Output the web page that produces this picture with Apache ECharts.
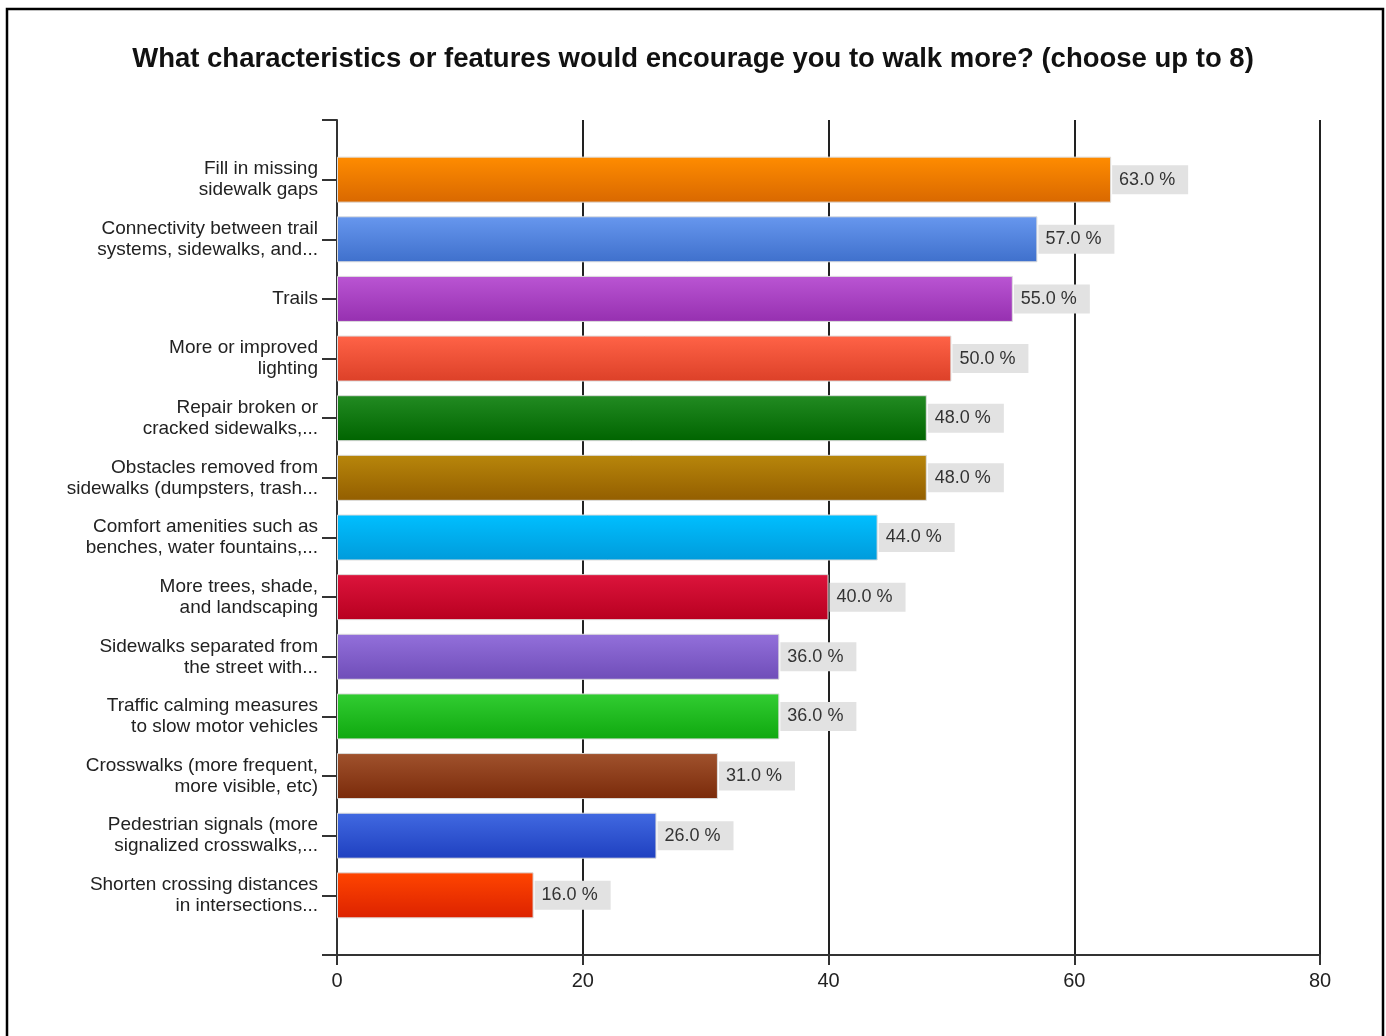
<!DOCTYPE html>
<html>
<head>
<meta charset="utf-8">
<script src="https://cdn.jsdelivr.net/npm/echarts@6/dist/echarts.min.js"></script>
<style>
html,body{margin:0;padding:0;background:#fff;}
#chart{width:1386px;height:1036px;}
</style>
</head>
<body>
<div id="chart"></div>
<script>
var titleText = 'What characteristics or features would encourage you to walk more? (choose up to 8)';
var categories = [
  'Fill in missing\nsidewalk gaps',
  'Connectivity between trail\nsystems, sidewalks, and...',
  'Trails',
  'More or improved\nlighting',
  'Repair broken or\ncracked sidewalks,...',
  'Obstacles removed from\nsidewalks (dumpsters, trash...',
  'Comfort amenities such as\nbenches, water fountains,...',
  'More trees, shade,\nand landscaping',
  'Sidewalks separated from\nthe street with...',
  'Traffic calming measures\nto slow motor vehicles',
  'Crosswalks (more frequent,\nmore visible, etc)',
  'Pedestrian signals (more\nsignalized crosswalks,...',
  'Shorten crossing distances\nin intersections...'
];
var values = [63, 57, 55, 50, 48, 48, 44, 40, 36, 36, 31, 26, 16];
var xTicks = { min: 0, max: 80, interval: 20 };

var palette = [
  ['#ff8c00', '#d96800'],
  ['#6797ee', '#3f70cc'],
  ['#ba55d3', '#9630b0'],
  ['#ff6347', '#dc4028'],
  ['#228b22', '#006400'],
  ['#b8860b', '#935e00'],
  ['#00bfff', '#009bdb'],
  ['#dc143c', '#b80020'],
  ['#9370db', '#6f4db8'],
  ['#32cd32', '#0fa80f'],
  ['#a0522d', '#7a2a0a'],
  ['#4169e1', '#1f40c0'],
  ['#ff4500', '#dc2200']
];

// pad categories so the axis has an empty slot at each end
var yData = [''].concat(categories, ['']);
var barData = [null];
values.forEach(function (v, i) {
  barData.push({
    value: v,
    itemStyle: {
      color: new echarts.graphic.LinearGradient(0, 0, 0, 1, [
        { offset: 0, color: palette[i][0] },
        { offset: 1, color: palette[i][1] }
      ])
    }
  });
});
barData.push(null);

var chart = echarts.init(document.getElementById('chart'), null, { renderer: 'canvas' });
chart.setOption({
  backgroundColor: '#ffffff',
  animation: false,
  title: {
    text: titleText,
    left: 'center',
    top: 40,
    textStyle: { fontFamily: 'Liberation Sans, Arial, sans-serif', fontSize: 27.5, fontWeight: 'bold', color: '#111' }
  },
  graphic: [{
    type: 'rect',
    shape: { x: 7, y: 9, width: 1376, height: 1100 },
    style: { fill: 'none', stroke: '#000', lineWidth: 2.5 },
    silent: true
  }],
  grid: { left: 337, top: 120, width: 983, height: 835, containLabel: false },
  xAxis: {
    type: 'value',
    min: xTicks.min, max: xTicks.max, interval: xTicks.interval,
    axisLine: { show: true, lineStyle: { color: '#333', width: 2 } },
    axisTick: { show: true, length: 10, lineStyle: { color: '#333', width: 2 } },
    splitLine: { show: true, lineStyle: { color: '#222', width: 2 } },
    axisLabel: { fontFamily: 'Liberation Sans, Arial, sans-serif', fontSize: 20, color: '#222', margin: 16 }
  },
  yAxis: {
    type: 'category',
    inverse: true,
    boundaryGap: false,
    data: yData,
    axisLine: { show: true, lineStyle: { color: '#333', width: 2 } },
    axisTick: { show: true, length: 15, alignWithLabel: true, lineStyle: { color: '#333', width: 2 } },
    splitLine: { show: false },
    axisLabel: {
      interval: 0,
      fontFamily: 'Liberation Sans, Arial, sans-serif',
      fontSize: 19,
      lineHeight: 21,
      color: '#222',
      align: 'right',
      margin: 19
    }
  },
  series: [{
    type: 'bar',
    data: barData,
    barWidth: 46,
    itemStyle: { borderColor: '#dcdcdc', borderWidth: 1 },
    label: {
      show: true,
      position: 'right',
      distance: 1,
      formatter: function (p) { return p.value.toFixed(1) + ' %'; },
      fontFamily: 'Liberation Sans, Arial, sans-serif',
      fontSize: 18,
      color: '#333',
      backgroundColor: '#e2e2e2',
      padding: [6, 13, 5, 7]
    }
  }]
});
</script>
</body>
</html>
